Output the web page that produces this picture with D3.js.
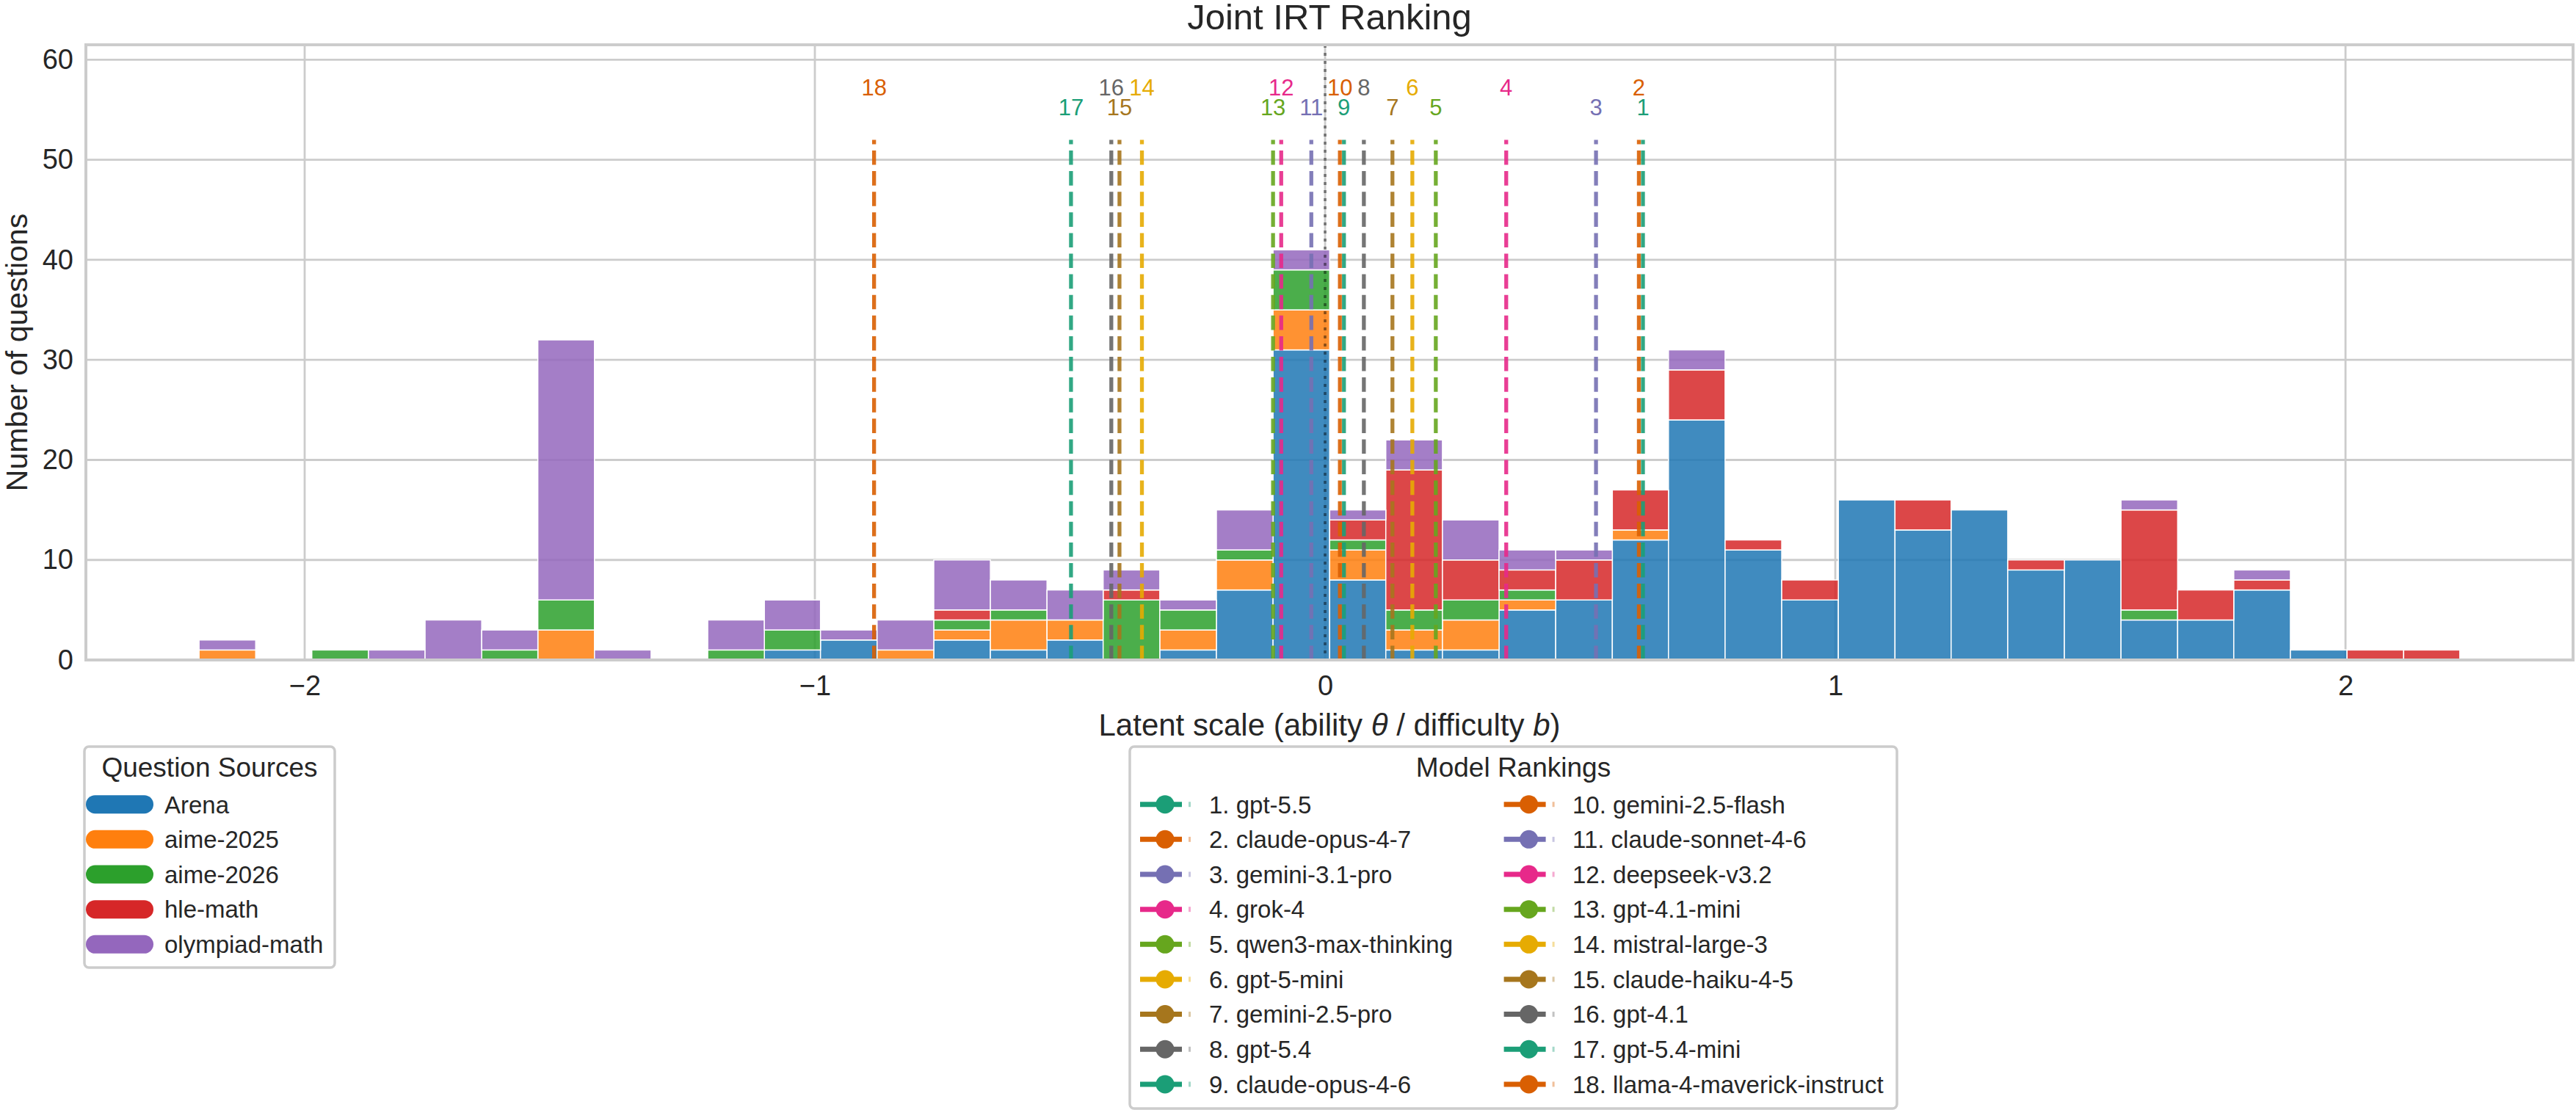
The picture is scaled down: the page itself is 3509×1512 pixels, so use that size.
<!DOCTYPE html>
<html>
<head>
<meta charset="utf-8">
<script src="https://cdn.jsdelivr.net/npm/d3@7"></script>
<style>
body { margin: 0; background: #fff; }
svg { display: block; font-family: "Liberation Sans", Arial, sans-serif; }
</style>
</head>
<body>
<div id="chart"></div>
<script>
// histogram bins (edges, 40 bins)
const binEdges = [-2.207, -2.096, -1.986, -1.875, -1.764, -1.653, -1.543, -1.432, -1.321, -1.210,
                  -1.099, -0.989, -0.878, -0.767, -0.656, -0.545, -0.435, -0.324, -0.213, -0.102,
                   0.009,  0.119,  0.230,  0.341,  0.452,  0.563,  0.673,  0.784,  0.895,  1.006,
                   1.117,  1.227,  1.338,  1.449,  1.560,  1.671,  1.781,  1.892,  2.003,  2.114, 2.224];

const sources = ['Arena', 'aime-2025', 'aime-2026', 'hle-math', 'olympiad-math'];
const arena    = [0,0,0,0,0,0,0,0,0,0, 1,2,0,2,1,2,0,1,7,31, 8,1,1,5,6,12,24,11,6,16, 13,15,9,10,4,4,7,1,0,0];
const aime2025 = [1,0,0,0,0,0,3,0,0,0, 0,0,1,1,3,2,0,2,3,4,  3,2,3,1,0,1,0,0,0,0,    0,0,0,0,0,0,0,0,0,0];
const aime2026 = [0,0,1,0,0,1,3,0,0,1, 2,0,0,1,1,0,6,2,1,4,  1,2,2,1,0,0,0,0,0,0,    0,0,0,0,1,0,0,0,0,0];
const hleMath  = [0,0,0,0,0,0,0,0,0,0, 0,0,0,1,0,0,1,0,0,0,  2,14,4,2,4,4,5,1,2,0,   3,0,1,0,10,3,1,0,1,1];
const olympiad = [1,0,0,1,4,2,26,1,0,3, 3,1,3,5,3,3,2,1,4,2, 1,3,4,2,1,0,2,0,0,0,    0,0,0,0,1,0,1,0,0,0];
const sourceColors = ['#1f77b4', '#ff7f0e', '#2ca02c', '#d62728', '#9467bd'];

// model abilities, in rank order
const models = ['gpt-5.5', 'claude-opus-4-7', 'gemini-3.1-pro', 'grok-4', 'qwen3-max-thinking',
                'gpt-5-mini', 'gemini-2.5-pro', 'gpt-5.4', 'claude-opus-4-6', 'gemini-2.5-flash',
                'claude-sonnet-4-6', 'deepseek-v3.2', 'gpt-4.1-mini', 'mistral-large-3',
                'claude-haiku-4-5', 'gpt-4.1', 'gpt-5.4-mini', 'llama-4-maverick-instruct'];
const abilities = [0.623, 0.615, 0.531, 0.355, 0.217, 0.171, 0.132, 0.076, 0.037, 0.029,
                   -0.027, -0.086, -0.102, -0.359, -0.403, -0.419, -0.498, -0.884];

const xTicks = [-2, -1, 0, 1, 2];
const yTicks = [0, 10, 20, 30, 40, 50, 60];

const W = 3509, H = 1512;
const plotLeft = 117, plotRight = 3505, plotTop = 61, plotBottom = 899;
const ink = '#262626';
const gridColor = '#cccccc';

const svg = d3.select('#chart')
              .append('svg')
              .attr('width', W)
              .attr('height', H);

const x = d3.scaleLinear()
            .domain([-2.4288, 2.446])
            .range([plotLeft, plotRight]);
const y = d3.scaleLinear()
            .domain([0, 61.5])
            .range([plotBottom, plotTop]);

// grid
svg.append('g')
   .selectAll('line')
   .data(yTicks)
   .enter()
   .append('line')
   .attr('x1', plotLeft).attr('x2', plotRight)
   .attr('y1', d => y(d)).attr('y2', d => y(d))
   .attr('stroke', gridColor)
   .attr('stroke-width', 2.8);
svg.append('g')
   .selectAll('line')
   .data(xTicks)
   .enter()
   .append('line')
   .attr('x1', d => x(d)).attr('x2', d => x(d))
   .attr('y1', plotTop).attr('y2', plotBottom)
   .attr('stroke', gridColor)
   .attr('stroke-width', 2.8);

// stacked bars
const rows = arena.map((v, i) => ({
    i: i,
    'Arena': v,
    'aime-2025': aime2025[i],
    'aime-2026': aime2026[i],
    'hle-math': hleMath[i],
    'olympiad-math': olympiad[i]
}));
const stacked = d3.stack().keys(sources)(rows);

stacked.forEach((layer, k) => {
    svg.append('g')
       .selectAll('rect')
       .data(layer.filter(d => d[1] > d[0]))
       .enter()
       .append('rect')
       .attr('x', d => x(binEdges[d.data.i]))
       .attr('width', d => x(binEdges[d.data.i + 1]) - x(binEdges[d.data.i]))
       .attr('y', d => y(d[1]))
       .attr('height', d => y(d[0]) - y(d[1]))
       .attr('fill', sourceColors[k])
       .attr('fill-opacity', 0.85)
       .attr('stroke', '#fff')
       .attr('stroke-width', 1.5);
});

// zero reference line
svg.append('line')
   .attr('x1', x(0)).attr('x2', x(0))
   .attr('y1', plotTop).attr('y2', plotBottom)
   .attr('stroke', '#000')
   .attr('stroke-opacity', 0.45)
   .attr('stroke-width', 3.7)
   .attr('stroke-dasharray', '4 7');

// model lines and rank labels
const modelColor = (i) => d3.schemeDark2[i % 8];

svg.append('g')
   .selectAll('line')
   .data(abilities)
   .enter()
   .append('line')
   .attr('x1', d => x(d)).attr('x2', d => x(d))
   .attr('y1', y(0)).attr('y2', y(52))
   .attr('stroke', (d, i) => modelColor(i))
   .attr('stroke-opacity', 0.9)
   .attr('stroke-width', 5.3)
   .attr('stroke-dasharray', '19.6 8.5');

svg.append('g')
   .selectAll('text')
   .data(abilities)
   .enter()
   .append('text')
   .attr('x', d => x(d))
   .attr('y', (d, i) => y((i + 1) % 2 === 0 ? 57.2 : 55.25))
   .attr('text-anchor', 'middle')
   .attr('dominant-baseline', 'central')
   .attr('font-size', 31)
   .attr('fill', (d, i) => modelColor(i))
   .text((d, i) => i + 1);

// axes
const xAxis = d3.axisBottom(x).tickValues(xTicks).tickSize(0).tickPadding(21).tickFormat(d3.format('d'));
const yAxis = d3.axisLeft(y).tickValues(yTicks).tickSize(0).tickPadding(17);

const gx = svg.append('g')
              .attr('transform', 'translate(0,' + plotBottom + ')')
              .call(xAxis);
const gy = svg.append('g')
              .attr('transform', 'translate(' + plotLeft + ',0)')
              .call(yAxis);
[gx, gy].forEach(g => {
    g.select('.domain').remove();
    g.selectAll('text')
     .attr('font-size', 38)
     .attr('font-family', '"Liberation Sans", Arial, sans-serif')
     .attr('fill', ink);
});

// frame
svg.append('rect')
   .attr('x', plotLeft).attr('y', plotTop)
   .attr('width', plotRight - plotLeft).attr('height', plotBottom - plotTop)
   .attr('fill', 'none')
   .attr('stroke', gridColor)
   .attr('stroke-width', 4);

// title and axis labels
svg.append('text')
   .attr('x', (plotLeft + plotRight) / 2).attr('y', 40)
   .attr('text-anchor', 'middle')
   .attr('font-size', 49)
   .attr('fill', ink)
   .text('Joint IRT Ranking');

const xl = svg.append('text')
   .attr('x', (plotLeft + plotRight) / 2).attr('y', 1002)
   .attr('text-anchor', 'middle')
   .attr('font-size', 42)
   .attr('fill', ink);
xl.append('tspan').text('Latent scale (ability ');
xl.append('tspan').attr('font-style', 'italic').text('θ');
xl.append('tspan').text(' / difficulty ');
xl.append('tspan').attr('font-style', 'italic').text('b');
xl.append('tspan').text(')');

svg.append('text')
   .attr('transform', 'translate(37,' + (plotTop + plotBottom) / 2 + ') rotate(-90)')
   .attr('text-anchor', 'middle')
   .attr('font-size', 41)
   .attr('fill', ink)
   .text('Number of questions');

// legend: question sources
const rowY0 = 1095.7, rowStep = 47.65;
const leg1 = svg.append('g');
leg1.append('rect')
    .attr('x', 115).attr('y', 1017)
    .attr('width', 341).attr('height', 301)
    .attr('rx', 6)
    .attr('fill', '#fff')
    .attr('stroke', gridColor)
    .attr('stroke-width', 3.5);
leg1.append('text')
    .attr('x', 285.5).attr('y', 1058)
    .attr('text-anchor', 'middle')
    .attr('font-size', 37)
    .attr('fill', ink)
    .text('Question Sources');
sources.forEach((s, i) => {
    const cy = rowY0 + i * rowStep;
    leg1.append('rect')
        .attr('x', 117).attr('y', cy - 12.5)
        .attr('width', 92).attr('height', 25)
        .attr('rx', 12.5)
        .attr('fill', sourceColors[i]);
    leg1.append('text')
        .attr('x', 224).attr('y', cy + 11.8)
        .attr('font-size', 33)
        .attr('fill', ink)
        .text(s);
});

// legend: model rankings
const leg2 = svg.append('g');
leg2.append('rect')
    .attr('x', 1539).attr('y', 1017)
    .attr('width', 1045).attr('height', 493)
    .attr('rx', 6)
    .attr('fill', '#fff')
    .attr('stroke', gridColor)
    .attr('stroke-width', 3.5);
leg2.append('text')
    .attr('x', 2061.5).attr('y', 1058)
    .attr('text-anchor', 'middle')
    .attr('font-size', 37)
    .attr('fill', ink)
    .text('Model Rankings');
models.forEach((m, i) => {
    const col = Math.floor(i / 9);
    const cy = rowY0 + (i % 9) * rowStep;
    const hx = 1553 + col * 495.6;
    const c = modelColor(i);
    leg2.append('line')
        .attr('x1', hx).attr('x2', hx + 57)
        .attr('y1', cy).attr('y2', cy)
        .attr('stroke', c)
        .attr('stroke-width', 7);
    leg2.append('line')
        .attr('x1', hx + 66).attr('x2', hx + 69)
        .attr('y1', cy).attr('y2', cy)
        .attr('stroke', c)
        .attr('stroke-opacity', 0.4)
        .attr('stroke-width', 7);
    leg2.append('circle')
        .attr('cx', hx + 34).attr('cy', cy)
        .attr('r', 12.5)
        .attr('fill', c);
    leg2.append('text')
        .attr('x', 1647 + col * 495).attr('y', cy + 11.8)
        .attr('font-size', 33)
        .attr('fill', ink)
        .text((i + 1) + '. ' + m);
});
</script>
</body>
</html>
